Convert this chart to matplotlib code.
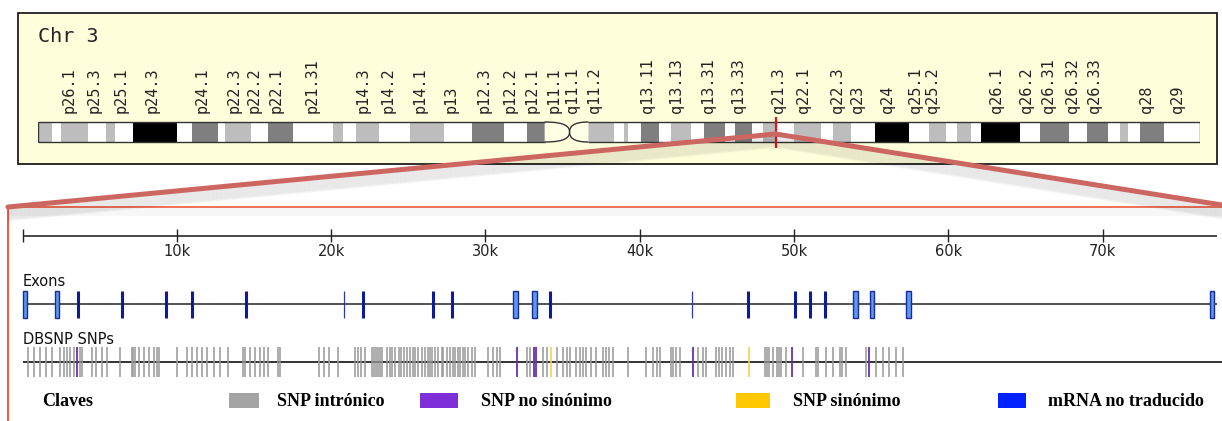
import matplotlib
matplotlib.use("Agg")
import matplotlib.pyplot as plt
from matplotlib.patches import Rectangle, PathPatch
from matplotlib.path import Path

W, H = 1222, 421

# ---- chromosome 3 ideogram (Mb) ----
band_edges = [0, 2.45, 3.95, 8.5, 11.57, 13.19, 16.12, 23.6, 26.2, 30.62,
              31.87, 36.28, 39.21, 43.43, 50.27, 51.89, 54.17, 58.19, 63.4, 69.25,
              73.87, 79.41, 83.31, 87.33, 90.58, 93.19, 98.1, 99.8, 100.6, 102.67,
              105.9, 107.8, 111.2, 113.5, 117.1, 118.8, 121.6, 123.5, 125.7, 128.9,
              133.5, 135.5, 138.5, 142.6, 148.5, 151.9, 154.7, 156.6, 159.0, 160.7,
              167.3, 170.8, 175.6, 178.8, 182.4, 184.3, 185.8, 187.8, 191.9, 198.0]
band_stain = ['g50', 'w', 'g50', 'w', 'g50', 'w', 'g100', 'w', 'g75', 'w',
              'g50', 'w', 'g75', 'w', 'g50', 'w', 'g50', 'w', 'g50', 'w',
              'g75', 'w', 'g75', 'acen', 'acen', 'g50', 'w', 'g50', 'w', 'g75',
              'w', 'g50', 'w', 'g75', 'w', 'g75', 'w', 'g50', 'w', 'g50',
              'w', 'g50', 'w', 'g100', 'w', 'g50', 'w', 'g50', 'w', 'g100',
              'w', 'g75', 'w', 'g75', 'w', 'g50', 'w', 'g75', 'w']
band_names = ['p26.1', 'p25.3', 'p25.1', 'p24.3', 'p24.1', 'p22.3', 'p22.2', 'p22.1',
              'p21.31', 'p14.3', 'p14.2', 'p14.1', 'p13', 'p12.3', 'p12.2', 'p12.1',
              'p11.1', 'q11.1', 'q11.2', 'q13.11', 'q13.13', 'q13.31', 'q13.33',
              'q21.3', 'q22.1', 'q22.3', 'q23', 'q24', 'q25.1', 'q25.2', 'q26.1',
              'q26.2', 'q26.31', 'q26.32', 'q26.33', 'q28', 'q29']
band_name_pos = [5.27, 9.61, 14.16, 19.37, 28.01, 33.35, 36.81, 40.5,
                 46.69, 55.47, 59.69, 65.09, 70.43, 75.95, 80.51, 84.28,
                 88.0, 91.11, 94.81, 103.88, 108.82, 114.17, 119.43,
                 126.2, 130.39, 136.2, 139.58, 144.79, 149.53, 152.42, 163.38,
                 168.46, 172.17, 176.23, 179.94, 188.94, 194.15]
marker_mb = 125.7

# ---- gene region (kb) ----
exon_pos = [0.16, 2.24, 3.62, 6.47, 9.28, 11.01, 14.50, 20.82, 22.07, 26.60,
            27.83, 31.95, 33.18, 34.20, 43.40, 46.99, 50.07, 51.02, 52.0, 53.98,
            55.05, 57.44, 77.09]
exon_kind = ['box', 'box', 'bar', 'bar', 'bar', 'bar', 'bar', 'thin', 'bar', 'bar',
             'bar', 'box', 'box', 'bar', 'thin', 'bar', 'bar', 'bar', 'bar', 'box',
             'box', 'box', 'box']

snp_intronic = [0.34, 0.73, 1.12, 1.55, 1.92, 2.46, 2.67, 2.89, 3.11, 3.32,
                3.75, 3.88, 4.51, 4.79, 5.16, 5.48, 6.34, 7.09, 7.18, 7.28,
                7.53, 7.85, 8.17, 8.50, 8.72, 8.82, 10.01, 10.66, 10.98, 11.31,
                11.63, 11.95, 12.38, 12.82, 13.29, 14.30, 14.43, 14.76, 15.08, 15.36,
                15.62, 15.94, 16.54, 16.70,
                19.24, 19.55, 19.89, 20.47, 21.55, 21.77, 21.92, 22.20,
                22.63, 22.78, 22.93, 23.07, 23.2, 23.28, 23.65, 23.8, 23.95, 24.14,
                24.40, 24.56, 24.72, 24.90, 25.11, 25.28, 25.44, 25.65, 25.87,
                26.08, 26.25, 26.41, 26.57, 26.73, 26.94, 27.17, 27.27, 27.49, 27.70,
                27.90, 28.06, 28.22, 28.38, 28.54, 28.67, 28.89, 29.11, 29.32,
                30.18, 30.50, 30.72, 30.94, 32.67, 32.88, 33.74, 34.00,
                34.61, 35.04, 35.26, 35.47, 35.90, 36.12, 36.33, 36.55, 36.87, 37.20,
                37.62, 37.84, 38.01, 38.27, 39.24, 40.43, 40.86, 41.12, 41.34,
                42.0, 42.16, 42.33, 42.59, 43.77, 44.10, 44.32, 44.96, 45.13, 45.35,
                45.57, 45.83, 46.04, 48.09, 48.25, 48.41, 48.61, 48.87, 49.03, 49.19,
                49.49, 50.57, 51.4, 51.55, 52.08, 52.51, 52.95, 53.1, 53.38,
                54.67, 55.32, 55.75, 56.18, 56.61, 57.09]
snp_nonsyn = [3.56, 32.02, 33.18, 33.28, 43.43, 49.88, 54.89]
snp_syn = [34.24, 47.07]

legend_labels = ['SNP intrónico', 'SNP no sinónimo', 'SNP sinónimo', 'mRNA no traducido']
legend_colors = ['#a4a4a4', '#7f2fd8', '#ffc800', '#0022ff']

stain_color = {'w': 'white', 'g50': '#bdbdbd', 'g75': '#7f7f7f', 'g100': 'black',
               'acen': '#ffffe0'}

fig = plt.figure(figsize=(W / 100, H / 100), dpi=100)


def px_axes(z):
    a = fig.add_axes([0, 0, 1, 1], zorder=z)
    a.set_xlim(0, W)
    a.set_ylim(H, 0)
    a.axis('off')
    a.patch.set_alpha(0)
    return a


bg = px_axes(0)
# upper yellow panel
bg.add_patch(Rectangle((18, 12.7), 1199, 150.8, facecolor='#ffffdc', edgecolor='#1e1e1e', lw=1.3))
bg.text(38, 36, 'Chr 3', fontfamily='DejaVu Sans Mono', fontsize=14.5, va='center', color='#222222')
# lower panel frame
for d in range(1, 9):
    bg.plot([8, W], [207 + d, 207 + d], color='black', alpha=0.022, lw=1, solid_capstyle='butt')
bg.plot([8, W], [207, 207], color='#f0583a', lw=1.2)
bg.plot([8, 8], [207, H], color='#f0583a', lw=1.4)

# ---- ideogram ----
ax_chr = fig.add_axes([38 / W, 1 - 150 / H, 1162 / W, 110 / H], zorder=1)
ax_chr.set_xlim(0, 198)
ax_chr.set_ylim(150, 40)
ax_chr.axis('off')
ax_chr.patch.set_alpha(0)
lefts = band_edges[:-1]
widths = [b - a for a, b in zip(band_edges[:-1], band_edges[1:])]
ax_chr.bar(lefts, [20] * len(lefts), width=widths, bottom=122, align='edge',
           color=[stain_color[s] for s in band_stain], edgecolor='none')
cen_a, cen_m, cen_b = band_edges[23], band_edges[24], band_edges[25]
# cover centromere region with panel colour then draw the pinched outline
ax_chr.bar([cen_a], [22], width=[cen_b - cen_a], bottom=121, align='edge', color='#ffffdc', edgecolor='none')
p_end = Path([(cen_a - 1.0, 122), (cen_m - 0.6, 122), (cen_m, 127), (cen_m, 132),
              (cen_m, 137), (cen_m - 0.6, 142), (cen_a - 1.0, 142)],
             [Path.MOVETO, Path.CURVE4, Path.CURVE4, Path.CURVE4, Path.CURVE4, Path.CURVE4, Path.CURVE4])
q_end = Path([(cen_b + 0.6, 122), (cen_m + 0.5, 122), (cen_m, 127), (cen_m, 132),
              (cen_m, 137), (cen_m + 0.5, 142), (cen_b + 0.6, 142)],
             [Path.MOVETO, Path.CURVE4, Path.CURVE4, Path.CURVE4, Path.CURVE4, Path.CURVE4, Path.CURVE4])
for pth in (p_end, q_end):
    ax_chr.add_patch(PathPatch(pth, facecolor='#ffffe6', edgecolor='#333333', lw=1.0))
ax_chr.hlines([122, 142], 0, cen_a - 1.0, color='#333333', lw=1.0)
ax_chr.hlines([122, 142], cen_b + 0.6, 198, color='#333333', lw=1.0)
ax_chr.vlines([0, 198], 122, 142, color='#333333', lw=1.0)
for name, pos in zip(band_names, band_name_pos):
    ax_chr.text(pos, 113, name, rotation=90, ha='center', va='bottom',
                fontfamily='DejaVu Sans Mono', fontsize=11, color='#222222')
ax_chr.vlines(marker_mb, 117, 148, color='#e8141e', lw=1.6)

# ---- gene region ----
ax = fig.add_axes([8 / W, 0, (W - 8) / W, (H - 207) / H], zorder=1)
ax.set_xlim(-0.94, 77.74)
ax.set_ylim(H, 207)
ax.axis('off')
ax.patch.set_alpha(0)
track_end = 77.4
ax.hlines(236, 0, track_end, color='#3a3a3a', lw=1.3)
ticks = list(range(0, 80, 10))
ax.vlines(ticks, 229, 242, color='#222222', lw=1.0)
for t in ticks[1:]:
    ax.text(t, 251, '%dk' % t, ha='center', va='center', fontsize=10.5, color='#222222')

ax.text(0, 281, 'Exons', ha='left', va='center', fontsize=10.5, color='#111111')
ax.hlines(304, 0, track_end, color='#444444', lw=1.3)
for pos, kind in zip(exon_pos, exon_kind):
    if kind == 'box':
        ax.add_patch(Rectangle((pos - 0.15, 291), 0.3, 27, facecolor='#5a98f2',
                               edgecolor='#1a2a9a', lw=1.0, zorder=3))
    elif kind == 'bar':
        ax.vlines(pos, 291, 318, color='#0c1c96', lw=2.2, zorder=3)
    else:
        ax.vlines(pos, 291, 318, color='#2a3aa8', lw=0.9, zorder=3)

ax.text(0, 340, 'DBSNP SNPs', ha='left', va='center', fontsize=10.5, color='#111111')
ax.hlines(362, 0, 77.74, color='#222222', lw=1.3)
ax.vlines(snp_intronic, 347, 377, color='#979797', lw=1.1)
ax.vlines(snp_nonsyn, 347, 377, color='#6a2fb0', lw=1.3)
ax.vlines(snp_syn, 347, 377, color='#f3d250', lw=1.2)

# ---- legend row ----
top = px_axes(3)
top.text(42, 401, 'Claves', fontfamily='Liberation Serif', fontweight='bold', fontsize=13, va='center')
sw_x = [229, 420, 736, 998]
tx_x = [277, 481, 793, 1048]
sw_w = [30, 38, 34, 28]
for lab, col, sx, tx, ww in zip(legend_labels, legend_colors, sw_x, tx_x, sw_w):
    top.add_patch(Rectangle((sx, 393), ww, 15, facecolor=col, edgecolor='none'))
    top.text(tx, 401, lab, fontfamily='Liberation Serif', fontweight='bold', fontsize=13, va='center')

# ---- zoom connector from the marker to the lower panel ----
apex = top.transData.inverted().transform(ax_chr.transData.transform((marker_mb, 134)))
ends = [(8, 207), (W, 205)]
for end in ends:
    for d in range(2, 14):
        top.plot([apex[0], end[0]], [apex[1] + d, end[1] + d], color='black', alpha=0.03, lw=2,
                 solid_capstyle='butt')
for end in ends:
    top.plot([apex[0], end[0]], [apex[1], end[1]], color='#cc6660', lw=3.6, solid_capstyle='round')

fig.savefig('out.png', dpi=100)
